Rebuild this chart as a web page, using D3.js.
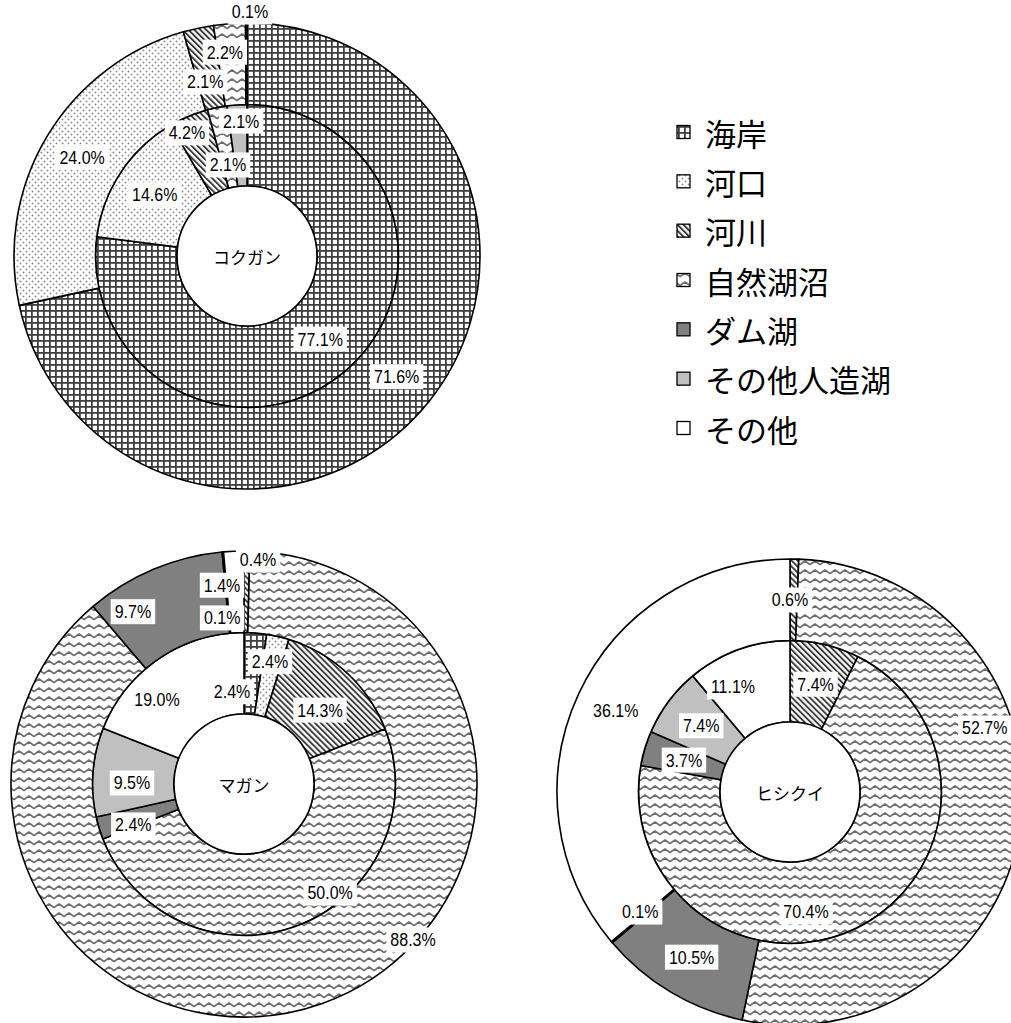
<!DOCTYPE html>
<html><head><meta charset="utf-8">
<script src="https://cdn.jsdelivr.net/npm/d3@7"></script>
<style>body{margin:0;background:#fff}</style>
</head><body><svg id="c" width="1011" height="1023"></svg>
<script>
// ---- data ----
const seriesNames = ["海岸","河口","河川","自然湖沼","ダム湖","その他人造湖","その他"];
const chartTitles = ["コクガン","マガン","ヒシクイ"];
const kokuganInner = [77.1,14.6,4.2,2.1,0,2.1,0];
const kokuganOuter = [71.6,24.0,2.1,2.2,0,0,0.1];
const maganInner   = [2.4,2.4,14.3,50.0,2.4,9.5,19.0];
const maganOuter   = [0,0,0.4,88.3,9.7,0.1,1.4];
const hishikuiInner = [0,0,7.4,70.4,3.7,7.4,11.1];
const hishikuiOuter = [0,0,0.6,52.7,10.5,0.1,36.1];

// ---- label placement overrides (polar: angle deg clockwise from 12 o'clock, radius px) ----
const labelMoves = {
  "0-outer-2":{a:346.5,r:179}, "0-outer-3":{a:353.8,r:205}, "0-outer-6":{a:0.7,r:244},
  "0-inner-2":{a:334,r:137}, "0-inner-3":{a:357.5,r:135}, "0-inner-5":{a:348.2,r:93},
  "1-outer-3":{a:132.7,r:230}, "1-outer-4":{a:327.2,r:205}, "1-outer-6":{a:353.7,r:200},
  "1-outer-5":{a:352.5,r:167.5}, "1-outer-2":{a:3.6,r:224.4},
  "1-inner-0":{a:12,r:125}, "1-inner-1":{a:352.6,r:93}, "1-inner-2":{a:45.8,r:106},
  "1-inner-3":{a:141.7,r:139}, "1-inner-4":{a:249.7,r:118}, "1-inner-5":{a:270.5,r:112},
  "1-inner-6":{a:314,r:121},
  "2-outer-2":{a:0,r:192}, "2-outer-3":{a:71.8,r:205}, "2-outer-5":{a:231.3,r:192},
  "2-inner-3":{a:172.4,r:121}, "2-inner-6":{a:331.5,r:119.5}
};

const svg = d3.select("#c");
svg.append("rect").attr("width",1011).attr("height",1023).attr("fill","#fff");
const defs = svg.append("defs");

// grid
let p = defs.append("pattern").attr("id","p-grid").attr("patternUnits","userSpaceOnUse").attr("width",6).attr("height",6);
p.append("rect").attr("width",6).attr("height",6).attr("fill","#fff");
p.append("rect").attr("width",6).attr("height",1.8).attr("fill","#404040");
p.append("rect").attr("width",1.8).attr("height",6).attr("fill","#404040");
// dots
p = defs.append("pattern").attr("id","p-dots").attr("patternUnits","userSpaceOnUse").attr("width",6).attr("height",6);
p.append("rect").attr("width",6).attr("height",6).attr("fill","#fff");
p.append("circle").attr("cx",1.5).attr("cy",1.5).attr("r",0.95).attr("fill","#8c8c8c");
p.append("circle").attr("cx",4.5).attr("cy",4.5).attr("r",0.95).attr("fill","#8c8c8c");
// stripes
p = defs.append("pattern").attr("id","p-stripe").attr("patternUnits","userSpaceOnUse").attr("width",4.2).attr("height",4.2).attr("patternTransform","rotate(-45)");
p.append("rect").attr("width",4.2).attr("height",4.2).attr("fill","#fff");
p.append("rect").attr("width",1.9).attr("height",4.2).attr("fill","#3a3a3a");
// wave
p = defs.append("pattern").attr("id","p-wave").attr("patternUnits","userSpaceOnUse").attr("width",10).attr("height",9);
p.append("rect").attr("width",10).attr("height",9).attr("fill","#fff");
p.append("path").attr("d","M-5,3 L0,6.5 L5,3 L10,6.5 L15,3").attr("fill","none").attr("stroke","#6e6e6e").attr("stroke-width",1.7).attr("stroke-linejoin","round");

const fills = ["url(#p-grid)","url(#p-dots)","url(#p-stripe)","url(#p-wave)","#808080","#c0c0c0","#ffffff"];

const charts = [
  {title: chartTitles[0], cx:247, cy:256, inner:kokuganInner, outer:kokuganOuter},
  {title: chartTitles[1], cx:244, cy:784, inner:maganInner, outer:maganOuter},
  {title: chartTitles[2], cx:790, cy:792, inner:hishikuiInner, outer:hishikuiOuter}
];
const R0 = 70, R1 = 151.5, R2 = 233;
const pie = d3.pie().sort(null).value(d => d);
const labelFont = "'Liberation Sans',Arial,sans-serif";

charts.forEach((ch, ci) => {
  const g = svg.append("g").attr("transform", `translate(${ch.cx},${ch.cy})`);
  const rings = [
    {vals: ch.inner, ri: R0, ro: R1, name: "inner"},
    {vals: ch.outer, ri: R1, ro: R2, name: "outer"}
  ];
  const labels = [];
  rings.forEach(rg => {
    const arc = d3.arc().innerRadius(rg.ri).outerRadius(rg.ro);
    const arcs = pie(rg.vals).filter(a => a.data > 0);
    g.selectAll(null).data(arcs).enter().append("path")
      .attr("d", arc)
      .attr("fill", d => fills[d.index])
      .attr("stroke", "#000").attr("stroke-width", 1.6).attr("stroke-linejoin","round");
    arcs.forEach(a => {
      const key = `${ci}-${rg.name}-${a.index}`;
      let x, y;
      if (labelMoves[key]) {
        const m = labelMoves[key], t = m.a * Math.PI / 180;
        x = m.r * Math.sin(t); y = -m.r * Math.cos(t);
      } else {
        [x, y] = arc.centroid(a);
      }
      labels.push({x, y, text: a.data.toFixed(1) + "%"});
    });
  });
  // center hole
  g.append("circle").attr("r", R0).attr("fill", "#fff").attr("stroke", "#000").attr("stroke-width", 1.6);
  g.append("text").text(ch.title).attr("text-anchor","middle").attr("dominant-baseline","central")
    .attr("font-family","'Noto Sans CJK JP',sans-serif").attr("font-size",17).attr("fill","#000");
  labels.forEach(l => {
    const lg = g.append("g").attr("transform", `translate(${l.x},${l.y})`);
    const r = lg.append("rect").attr("fill", "#fff");
    const t = lg.append("text").text(l.text).attr("text-anchor","middle").attr("dominant-baseline","central")
      .attr("transform","scale(1,1.15)")
      .attr("font-family", labelFont).attr("font-size", 16).attr("fill","#000");
    const bb = t.node().getBBox();
    r.attr("x", bb.x - 4).attr("y", -12.5).attr("width", bb.width + 8).attr("height", 25);
  });
});

// legend
const legendY = d3.scaleLinear().domain([0, seriesNames.length - 1]).range([132, 428]);
const lg = svg.append("g");
seriesNames.forEach((n, i) => {
  const y = legendY(i);
  lg.append("rect").attr("x", 677).attr("y", y - 6.5).attr("width", 13).attr("height", 13)
    .attr("fill", fills[i]).attr("stroke", "#000").attr("stroke-width", 1.3);
  lg.append("text").attr("x", 705).attr("y", y).attr("dominant-baseline","central")
    .attr("font-family","'Noto Sans CJK JP',sans-serif").attr("font-size", 31).attr("fill","#000").text(n);
});
</script></body></html>
